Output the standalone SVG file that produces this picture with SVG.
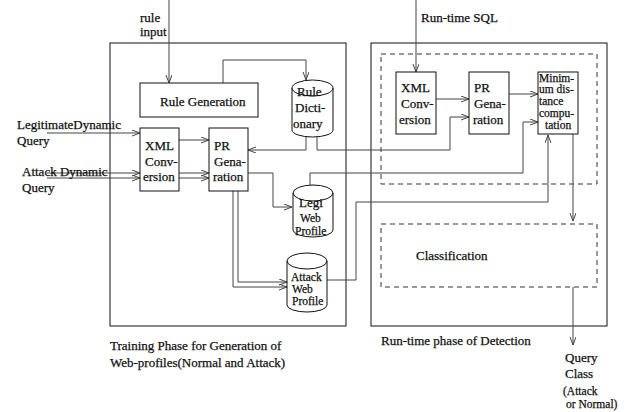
<svg xmlns="http://www.w3.org/2000/svg" width="630" height="412" viewBox="0 0 630 412">
<defs>
<marker id="arr" markerUnits="userSpaceOnUse" markerWidth="10" markerHeight="8" refX="8" refY="3" orient="auto">
<path d="M0,0 L8,3 L0,6" fill="none" stroke="#444" stroke-width="1"/>
</marker>
<style>
text{font-family:"Liberation Serif","Times New Roman",serif;font-size:13px;fill:#111;stroke:#111;stroke-width:0.25}
.sm{font-size:12px}
.xs{font-size:11.5px}
.box{fill:#fff;stroke:#111;stroke-width:1}
.frame{fill:none;stroke:#111;stroke-width:1}
.dash{fill:none;stroke:#333;stroke-width:1;stroke-dasharray:5,4}
.c{fill:none;stroke:#111;stroke-width:1}
.a{fill:none;stroke:#444;stroke-width:1;marker-end:url(#arr)}
.cyl{fill:#fff;stroke:#111;stroke-width:1}
</style>
</defs>
<rect fill="#fff" x="0" y="0" width="630" height="412"/>

<g id="frames">
<rect class="frame" x="110" y="43" width="236" height="283"/>
<rect class="frame" x="371" y="43" width="236" height="283"/>
<rect class="dash" x="381" y="54" width="216" height="130"/>
<text x="110" y="350">Training Phase for Generation of</text>
<text x="110" y="367">Web-profiles(Normal and Attack)</text>
<text x="381" y="345">Run-time phase of Detection</text>
</g>

<g id="connectors">
<line class="a" x1="169" y1="0" x2="169" y2="83"/>
<polyline class="a" points="223,83 223,60 306,60 306,80"/>
<polyline class="a" points="306,137 306,150 248,150"/>
<polyline class="a" points="317,136 317,150 450,150 450,117 469,117"/>
<line class="a" x1="47" y1="133" x2="140" y2="133"/>
<line class="a" x1="47" y1="173" x2="140" y2="173"/>
<line class="a" x1="47" y1="178" x2="140" y2="178"/>
<line class="a" x1="179" y1="140" x2="209" y2="140"/>
<line class="a" x1="179" y1="173" x2="209" y2="173"/>
<line class="a" x1="179" y1="178" x2="209" y2="178"/>
<polyline class="a" points="248,173 273,173 273,207 292,207"/>
<polyline class="a" points="233,191 233,287 287,287"/>
<polyline class="a" points="238,191 238,282 287,282"/>
<polyline class="a" points="310,185 310,173 523,173 523,122 538,122"/>
<polyline class="a" points="327,280 356,280 356,202 548,202 548,135"/>
<line class="a" x1="416" y1="0" x2="416" y2="72"/>
<line class="a" x1="436" y1="99" x2="469" y2="99"/>
<line class="a" x1="509" y1="94" x2="538" y2="94"/>
<line class="a" x1="573" y1="134" x2="573" y2="221"/>
<line class="a" x1="573" y1="287" x2="573" y2="345"/>
</g>

<g id="labels">
<text x="140" y="22">rule</text>
<text x="140" y="36">input</text>
<text x="17" y="129">LegitimateDynamic</text>
<text x="17" y="145">Query</text>
<text x="22" y="176">Attack Dynamic</text>
<text x="22" y="192">Query</text>
<text x="421" y="22">Run-time SQL</text>
<text x="565" y="362">Query</text>
<text x="565" y="378">Class</text>
<text class="xs" x="563" y="395">(Attack</text>
<text class="xs" x="566" y="408">or Normal)</text>
</g>

<g id="rule-generation">
<rect class="box" x="140" y="83" width="118" height="34"/>
<text x="160" y="106">Rule Generation</text>
</g>

<g id="xml-conversion-train">
<rect class="box" x="140" y="128" width="39" height="63"/>
<text x="145" y="150">XML</text>
<text x="145" y="166">Conv-</text>
<text x="143" y="181">ersion</text>
</g>

<g id="pr-generation-train">
<rect class="box" x="209" y="128" width="39" height="63"/>
<text x="214" y="150">PR</text>
<text x="214" y="166">Gena-</text>
<text x="213" y="181">ration</text>
</g>

<g id="rule-dictionary">
<path class="cyl" d="M292,88 A20.5,8 0 0 1 333,88 L333,130 A20.5,7 0 0 1 292,130 Z"/>
<path class="c" d="M292,88 A20.5,8 0 0 0 333,88"/>
<text x="297" y="96">Rule</text>
<text x="295" y="112">Dicti-</text>
<text x="293" y="128">onary</text>
</g>

<g id="legi-web-profile">
<path class="cyl" d="M293,193 A20,8 0 0 1 333,193 L333,230 A20,7 0 0 1 293,230 Z"/>
<path class="c" d="M293,193 A20,8 0 0 0 333,193"/>
<text x="299" y="207">Legi</text>
<text class="xs" x="300" y="222">Web</text>
<text class="xs" x="295" y="235">Profile</text>
</g>

<g id="attack-web-profile">
<path class="cyl" d="M287,261 A20,8 0 0 1 327,261 L327,305 A20,7 0 0 1 287,305 Z"/>
<path class="c" d="M287,261 A20,8 0 0 0 327,261"/>
<text class="xs" x="291" y="281">Attack</text>
<text class="xs" x="292" y="293">Web</text>
<text class="xs" x="292" y="305">Profile</text>
</g>

<g id="xml-conversion-run">
<rect class="box" x="396" y="72" width="40" height="62"/>
<text x="401" y="92">XML</text>
<text x="401" y="108">Conv-</text>
<text x="399" y="124">ersion</text>
</g>

<g id="pr-generation-run">
<rect class="box" x="469" y="72" width="40" height="62"/>
<text x="474" y="92">PR</text>
<text x="474" y="108">Gena-</text>
<text x="473" y="124">ration</text>
</g>

<g id="minimum-distance">
<rect class="box" x="538" y="72" width="40" height="62"/>
<text class="xs" x="539" y="82">Minim-</text>
<text class="xs" x="539" y="93">um dis-</text>
<text class="xs" x="539" y="105">tance</text>
<text class="xs" x="539" y="117">compu-</text>
<text class="xs" x="545" y="129">tation</text>
</g>

<g id="classification">
<rect class="dash" x="381" y="224" width="216" height="63"/>
<text x="416" y="260">Classification</text>
</g>
</svg>
